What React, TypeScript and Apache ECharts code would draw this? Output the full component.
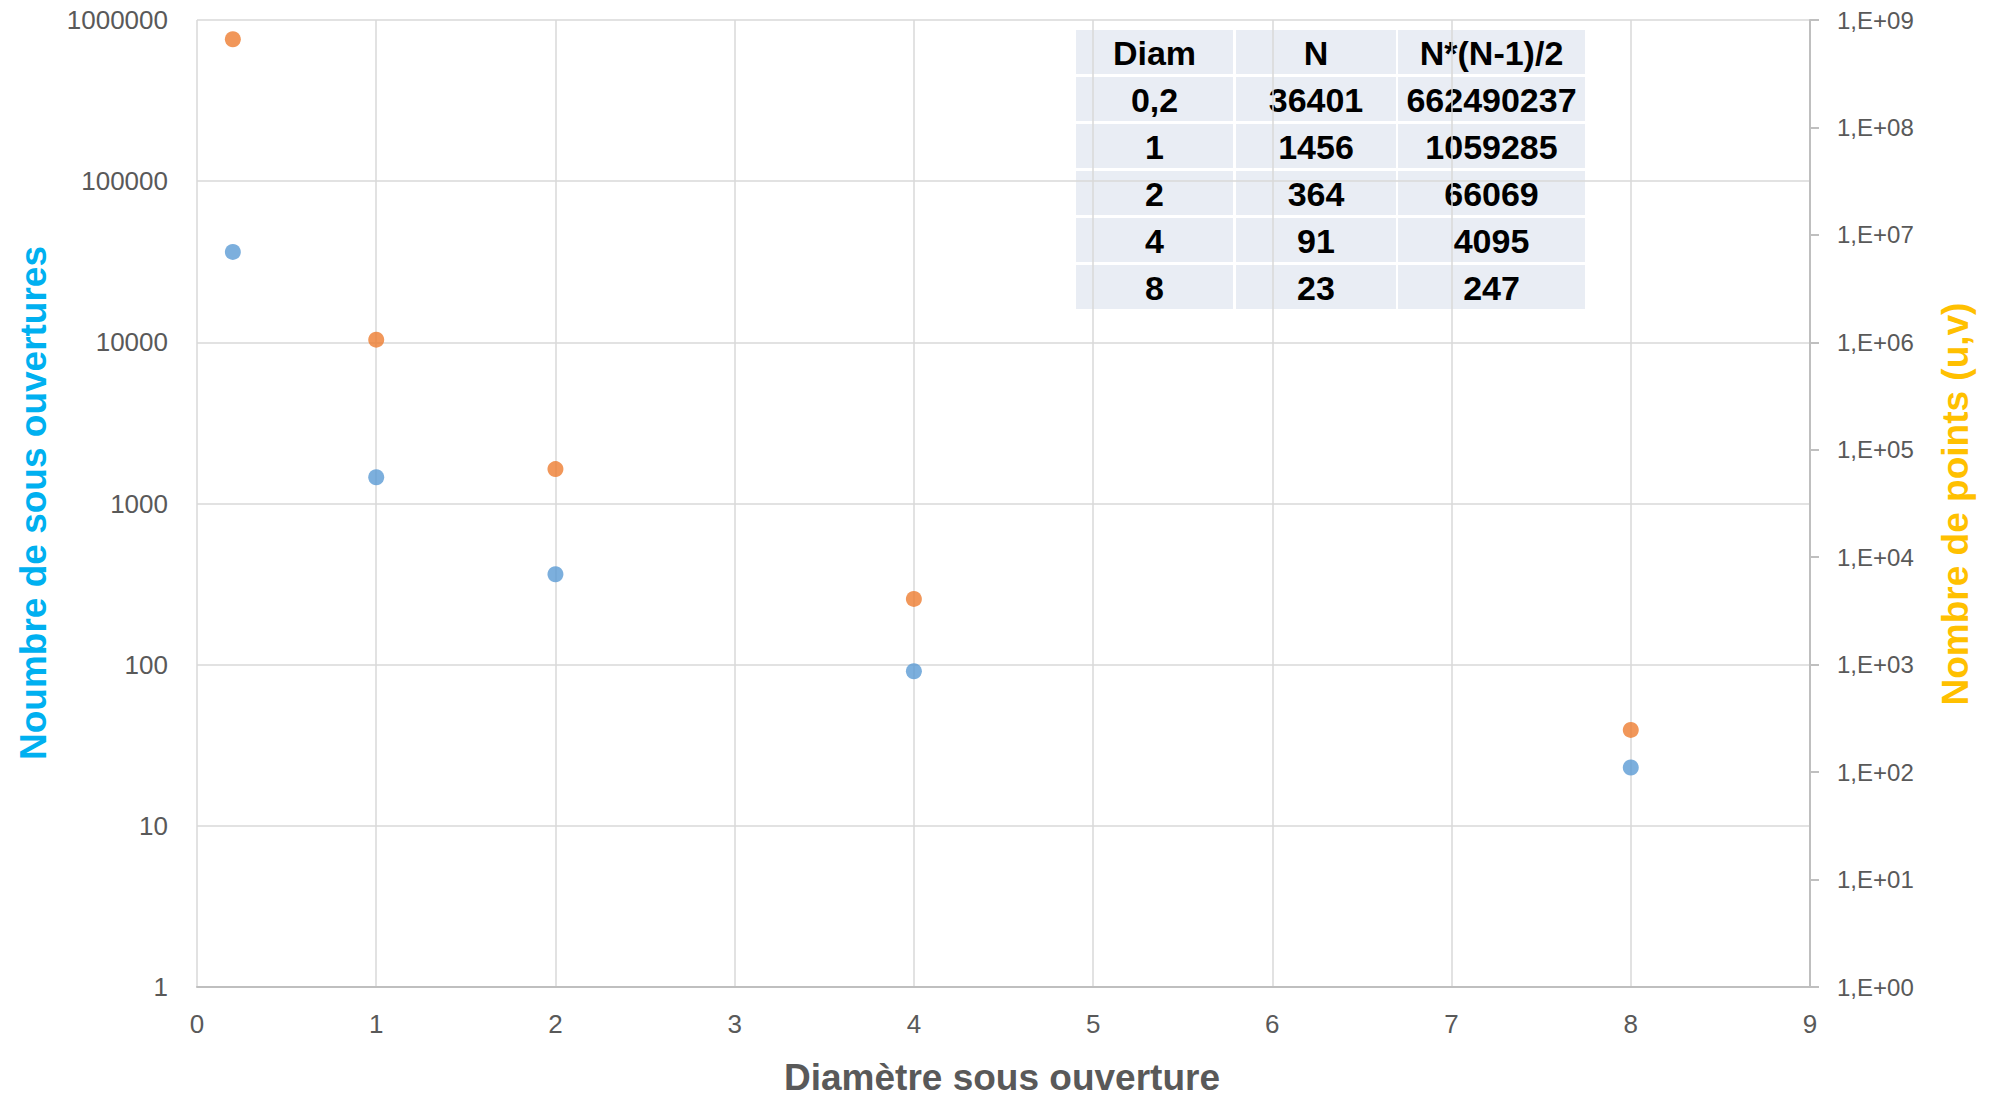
import React, { useEffect, useRef } from "react";
import * as echarts from "echarts";

const diameters = [0.2, 1, 2, 4, 8];
const diamLabels = ["0,2", "1", "2", "4", "8"];
const nOpenings = [36401, 1456, 364, 91, 23];
const nPairs = [662490237, 1059285, 66069, 4095, 247];
const tableHeaders = ["Diam", "N", "N*(N-1)/2"];
const xTitle = "Diamètre sous ouverture";
const leftTitle = "Noumbre de sous ouvertures";
const rightTitle = "Nombre de points (u,v)";

const FONT = "'Liberation Sans', Arial, sans-serif";
const GRAY = "#595959";

function buildTable(): any[] {
  const colX = [1076, 1236, 1398];
  const colW = [157, 160, 187];
  const rowY0 = 30;
  const rowH = 44;
  const rowStep = 47;
  const rows: string[][] = [tableHeaders];
  diamLabels.forEach((d, i) => rows.push([d, String(nOpenings[i]), String(nPairs[i])]));
  const els: any[] = [];
  rows.forEach((row, r) => {
    row.forEach((txt, c) => {
      els.push({
        type: "rect",
        z: -10,
        shape: { x: colX[c], y: rowY0 + r * rowStep, width: colW[c], height: rowH },
        style: { fill: "#E9EDF4" },
      });
      els.push({
        type: "text",
        z: -9,
        x: colX[c] + colW[c] / 2,
        y: rowY0 + r * rowStep + rowH / 2 + 1,
        style: {
          text: txt,
          fill: "#000000",
          font: `bold 34px ${FONT}`,
          align: "center",
          verticalAlign: "middle",
        },
      });
    });
  });
  return els;
}

export default function App() {
  const ref = useRef<HTMLDivElement>(null);
  useEffect(() => {
    if (!ref.current) return;
    const chart = echarts.init(ref.current, null, { renderer: "svg" });
    const option: any = {
      animation: false,
      backgroundColor: "#ffffff",
      textStyle: { fontFamily: FONT },
      grid: { left: 197, right: 180, top: 20, bottom: 111 },
      xAxis: {
        type: "value",
        min: 0,
        max: 9,
        interval: 1,
        axisLine: { show: true, lineStyle: { color: "#BFBFBF", width: 2 } },
        axisTick: { show: false },
        axisLabel: { color: GRAY, fontSize: 26, margin: 24, fontFamily: FONT },
        splitLine: { show: true, lineStyle: { color: "#D9D9D9", width: 1.5 } },
      },
      yAxis: [
        {
          type: "log",
          logBase: 10,
          min: 1,
          max: 1000000,
          splitNumber: 6,
          axisLine: { show: false },
          axisTick: { show: false },
          axisLabel: {
            color: GRAY,
            fontSize: 26,
            margin: 29,
            fontFamily: FONT,
            formatter: (v: number) => String(Math.round(v)),
          },
          splitLine: { show: true, lineStyle: { color: "#D9D9D9", width: 1.5 } },
        },
        {
          type: "log",
          logBase: 10,
          min: 1,
          max: 1000000000,
          splitNumber: 9,
          position: "right",
          axisLine: { show: true, lineStyle: { color: "#BFBFBF", width: 2 } },
          axisTick: { show: true, inside: false, length: 9, lineStyle: { color: "#BFBFBF", width: 2 } },
          axisLabel: {
            color: GRAY,
            fontSize: 24,
            margin: 27,
            fontFamily: FONT,
            formatter: (v: number) => {
              const e = Math.round(Math.log10(v));
              return `1,E+${String(e).padStart(2, "0")}`;
            },
          },
          splitLine: { show: false },
        },
      ],
      series: [
        {
          name: "N",
          type: "scatter",
          yAxisIndex: 0,
          symbol: "circle",
          symbolSize: 16,
          itemStyle: { color: "#5B9BD5" },
          data: diameters.map((d, i) => [d, nOpenings[i]]),
        },
        {
          name: "N*(N-1)/2",
          type: "scatter",
          yAxisIndex: 1,
          symbol: "circle",
          symbolSize: 16,
          itemStyle: { color: "#ED7D31" },
          data: diameters.map((d, i) => [d, nPairs[i]]),
        },
      ],
      graphic: [
        ...buildTable(),
        {
          type: "text",
          x: 1002,
          y: 1077,
          style: {
            text: xTitle,
            fill: GRAY,
            font: `bold 37px ${FONT}`,
            align: "center",
            verticalAlign: "middle",
          },
        },
        {
          type: "text",
          x: 33,
          y: 503,
          rotation: Math.PI / 2,
          style: {
            text: leftTitle,
            fill: "#00B0F0",
            font: `bold 37px ${FONT}`,
            align: "center",
            verticalAlign: "middle",
          },
        },
        {
          type: "text",
          x: 1955,
          y: 504,
          rotation: Math.PI / 2,
          style: {
            text: rightTitle,
            fill: "#FFC000",
            font: `bold 37px ${FONT}`,
            align: "center",
            verticalAlign: "middle",
          },
        },
      ],
    };
    chart.setOption(option);
    return () => chart.dispose();
  }, []);
  return (
    <div
      ref={ref}
      style={{ position: "fixed", left: 0, top: 0, width: 1990, height: 1098 }}
    />
  );
}
